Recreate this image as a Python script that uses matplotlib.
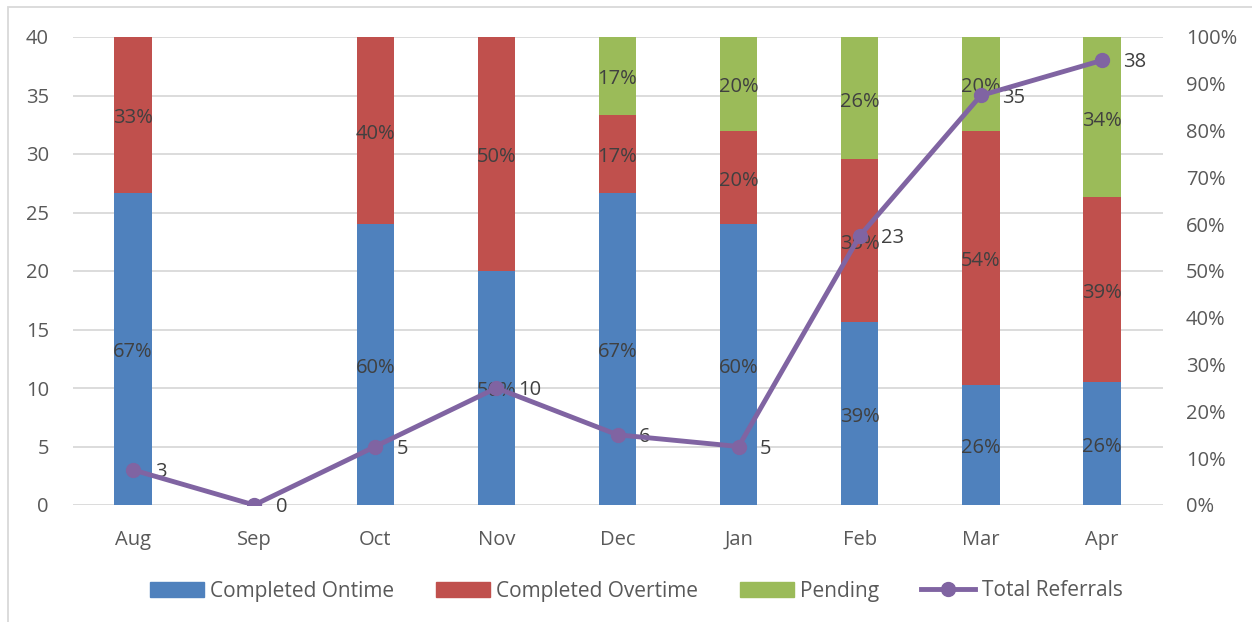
import matplotlib
matplotlib.use("Agg")
import matplotlib.pyplot as plt
from matplotlib.patches import Rectangle
from matplotlib.lines import Line2D
from matplotlib.patches import Patch
import numpy as np

months = ["Aug", "Sep", "Oct", "Nov", "Dec", "Jan", "Feb", "Mar", "Apr"]
ontime = [2, 0, 3, 5, 4, 3, 9, 9, 10]
overtime = [1, 0, 2, 5, 1, 1, 8, 19, 15]
pending = [0, 0, 0, 0, 1, 1, 6, 7, 13]
total_referrals = [3, 0, 5, 10, 6, 5, 23, 35, 38]

C_ON = "#4F81BD"
C_OVER = "#C0504D"
C_PEND = "#9BBB59"
C_LINE = "#8064A2"
TXT = "#404040"
TICK = "#595959"
GRID = "#D9D9D9"
FS = 14.5

plt.rcParams["font.family"] = ["Open Sans", "DejaVu Sans"]

fig = plt.figure(figsize=(12.52, 6.22), dpi=100)
fig.patches.append(Rectangle((8 / 1252, -0.1), 1.2, (622 - 7) / 622 + 0.1,
                             transform=fig.transFigure, fill=False,
                             edgecolor=GRID, linewidth=1.3, zorder=0))

ax = fig.add_axes([72.5 / 1252, 1 - 505 / 622, 1090 / 1252, 468 / 622])
ax2 = ax.twinx()

x = np.arange(len(months))
tot = np.array(ontime) + np.array(overtime) + np.array(pending)
safe = np.where(tot == 0, 1, tot)
shares = [np.array(s) / safe for s in (ontime, overtime, pending)]

# gridlines behind the bars, one for every step of 5 referrals
for j in range(9):
    ax.axhline(j / 8, color=GRID, linewidth=1.3, zorder=0)

w = 0.31
bottom = np.zeros(len(months))
for share, col in zip(shares, (C_ON, C_OVER, C_PEND)):
    ax.bar(x, share, w, bottom=bottom, color=col, zorder=2)
    for xi, b, s in zip(x, bottom, share):
        if s > 0:
            ax.annotate(f"{s * 100:.0f}%", (xi, b + s / 2), xytext=(0, -2.5),
                        textcoords="offset points", ha="center", va="center",
                        fontsize=FS, color=TXT, zorder=3)
    bottom = bottom + share

ax.set_ylim(0, 1)
ax.set_xlim(-0.5, len(months) - 0.5)
ax.yaxis.tick_right()
ax.set_yticks(np.arange(0, 1.01, 0.1))
ax.set_yticklabels([f"{v}%" for v in range(0, 101, 10)])
ax.set_xticks(x)
ax.set_xticklabels(months)

ax2.plot(x, total_referrals, color=C_LINE, linewidth=3.5, marker="o",
         markersize=10, zorder=5, solid_capstyle="round")
for xi, v in zip(x, total_referrals):
    ax2.annotate(str(v), (xi, v), xytext=(15.5, -1.5), textcoords="offset points",
                 ha="left", va="center", fontsize=FS, color=TXT)
ax2.set_ylim(0, 40)
ax2.yaxis.tick_left()
ax2.set_yticks(range(0, 41, 5))

for a in (ax, ax2):
    for s in a.spines.values():
        s.set_visible(False)
    a.tick_params(length=0, labelsize=FS, labelcolor=TICK)
ax.tick_params(axis="y", pad=17)
ax2.tick_params(axis="y", pad=17)
ax.tick_params(axis="x", pad=18)

handles = [Patch(color=C_ON), Patch(color=C_OVER), Patch(color=C_PEND),
           Line2D([], [], color=C_LINE, linewidth=3.5, marker="o", markersize=10)]
labels = ["Completed Ontime", "Completed Overtime", "Pending", "Total Referrals"]
leg = fig.legend(handles, labels, loc="center", bbox_to_anchor=(0.508, 1 - 591 / 622),
                 ncol=4, frameon=False, fontsize=15, handlelength=2.6,
                 handleheight=0.7, handletextpad=0.3, columnspacing=2.0)
for t in leg.get_texts():
    t.set_color(TICK)

fig.savefig("out.png", dpi=100)
